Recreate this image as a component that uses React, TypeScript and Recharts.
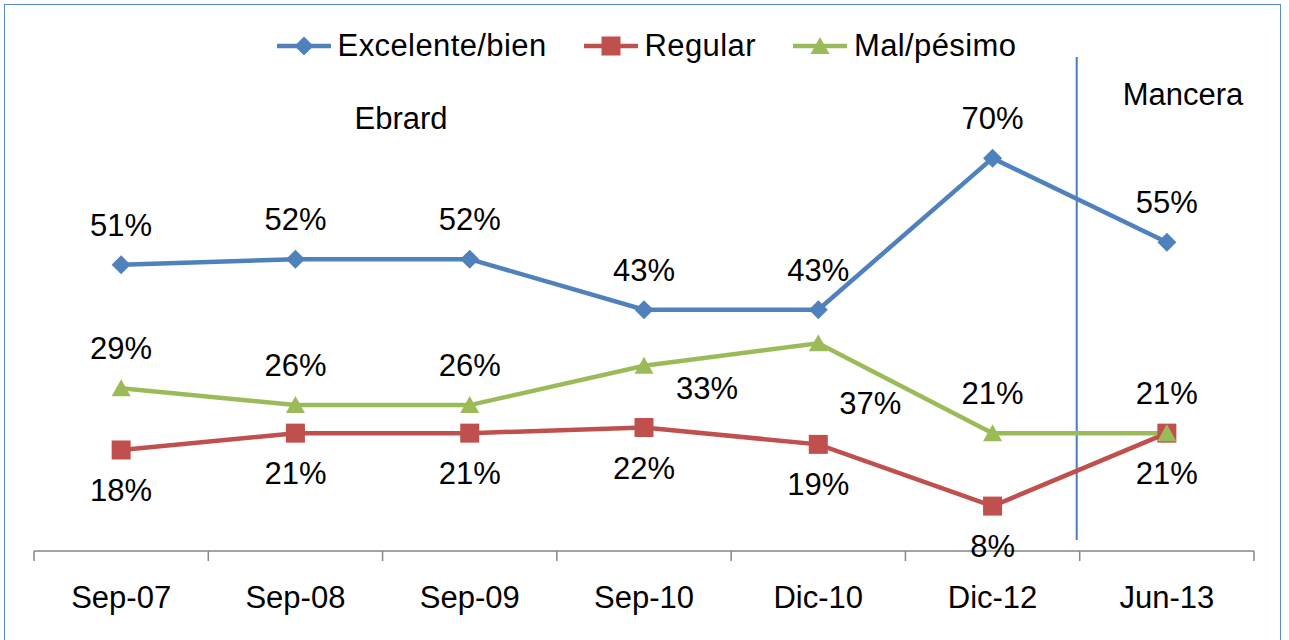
import { Legend, Line, LineChart, ReferenceLine, XAxis, YAxis } from 'recharts'

// values (percent)
const categories = ['Sep-07', 'Sep-08', 'Sep-09', 'Sep-10', 'Dic-10', 'Dic-12', 'Jun-13']
const excelenteBien = [51, 52, 52, 43, 43, 70, 55]
const regular = [18, 21, 21, 22, 19, 8, 21]
const malPesimo = [29, 26, 26, 33, 37, 21, 21]

const seriesNames = ['Excelente/bien', 'Regular', 'Mal/pésimo']

const W = 1289
const H = 640
const MARGIN = { top: 102, right: 35, bottom: 0, left: 34 }
const BAND = (W - MARGIN.left - MARGIN.right) / categories.length
const FONT = '"Liberation Sans", Arial, sans-serif'
const FS = 31

const BLUE = '#4F81BD'
const RED = '#C0504D'
const GREEN = '#9BBB59'

// label placement relative to each point (label centre)
type Offset = [number, number]
const ABOVE: Offset = [0, -40]
const BELOW: Offset = [0, 40]
const bluePlacement: Offset[] = categories.map(() => ABOVE)
const redPlacement: Offset[] = categories.map(() => BELOW)
const greenPlacement: Offset[] = [ABOVE, ABOVE, ABOVE, [63, 22], [52, 60], ABOVE, ABOVE]

const data = categories.map((name, i) => ({
	name,
	excelente: excelenteBien[i],
	regular: regular[i],
	mal: malPesimo[i],
}))

type Kind = 'diamond' | 'square' | 'triangle'

function Marker({ kind, cx, cy, color }: { kind: Kind; cx: number; cy: number; color: string }) {
	if (kind === 'diamond') {
		const r = 9.5
		return <polygon points={`${cx},${cy - r} ${cx + r},${cy} ${cx},${cy + r} ${cx - r},${cy}`} fill={color} />
	}
	if (kind === 'square') {
		return <rect x={cx - 9.5} y={cy - 9.5} width={19} height={19} fill={color} />
	}
	return <polygon points={`${cx},${cy - 9} ${cx + 9.5},${cy + 8} ${cx - 9.5},${cy + 8}`} fill={color} />
}

function makeDot(kind: Kind, color: string, key: string, placement: Offset[]) {
	return (props: any) => {
		const { cx, cy, index, payload } = props
		if (cx == null || cy == null) return <g key={`${key}-${index}`} />
		const [dx, dy] = placement[index] ?? ABOVE
		const v = payload?.[key] ?? props.value
		return (
			<g key={`${key}-${index}`}>
				<Marker kind={kind} cx={cx} cy={cy} color={color} />
				<text x={cx + dx} y={cy + dy + 11} textAnchor="middle" fontSize={FS} fontFamily={FONT} fill="#000">
					{v}%
				</text>
			</g>
		)
	}
}

function AxisTick(props: any) {
	const { x, y, payload, index } = props
	const last = index === categories.length - 1
	return (
		<g>
			<line x1={x - BAND / 2} y1={y} x2={x - BAND / 2} y2={y + 10} stroke="#868686" strokeWidth={1.5} />
			{last && <line x1={x + BAND / 2} y1={y} x2={x + BAND / 2} y2={y + 10} stroke="#868686" strokeWidth={1.5} />}
			<text x={x} y={y + 57} textAnchor="middle" fontSize={FS} fontFamily={FONT} fill="#000">
				{payload.value}
			</text>
		</g>
	)
}

function LegendContent() {
	const items: Array<{ name: string; color: string; kind: Kind }> = [
		{ name: seriesNames[0], color: BLUE, kind: 'diamond' },
		{ name: seriesNames[1], color: RED, kind: 'square' },
		{ name: seriesNames[2], color: GREEN, kind: 'triangle' },
	]
	return (
		<div
			style={{
				display: 'flex',
				justifyContent: 'center',
				gap: 37,
				fontFamily: FONT,
				fontSize: FS,
				lineHeight: '32px',
				letterSpacing: 0.4,
			}}
		>
			{items.map((it) => (
				<div key={it.name} style={{ display: 'flex', alignItems: 'center', gap: 7 }}>
					<svg width={54} height={32}>
						<line x1={0} y1={16} x2={54} y2={16} stroke={it.color} strokeWidth={4.5} />
						<Marker kind={it.kind} cx={27} cy={16} color={it.color} />
					</svg>
					<span style={{ color: '#000' }}>{it.name}</span>
				</div>
			))}
		</div>
	)
}

function DividerLine(props: any) {
	const x = props.x1 - BAND / 2 - 3
	return <line x1={x} y1={57} x2={x} y2={540} stroke="#4A7EBB" strokeWidth={2} />
}

export default function App() {
	return (
		<div style={{ position: 'absolute', left: 0, top: 0, width: W, height: H, overflow: 'hidden', background: '#fff', fontFamily: FONT }}>
			<div
				style={{
					position: 'absolute',
					left: 4,
					top: 4,
					width: 1277,
					height: 680,
					border: '1.5px solid #5B8BC9',
					boxSizing: 'border-box',
				}}
			/>
			<LineChart width={W} height={H} data={data} margin={MARGIN}>
				<XAxis
					dataKey="name"
					height={89}
					interval={0}
					padding={{ left: BAND / 2, right: BAND / 2 }}
					axisLine={{ stroke: '#868686', strokeWidth: 1.5 }}
					tickLine={false}
					tickSize={0}
					tickMargin={0}
					tick={<AxisTick />}
				/>
				<YAxis hide domain={[0, 80]} />
				<Legend
					verticalAlign="middle"
					content={<LegendContent />}
					wrapperStyle={{ position: 'absolute', top: 30, left: 2, width: W }}
				/>
				<ReferenceLine x="Jun-13" ifOverflow="visible" shape={<DividerLine />} />
				<Line
					dataKey="excelente"
					name={seriesNames[0]}
					stroke={BLUE}
					strokeWidth={4.5}
					dot={makeDot('diamond', BLUE, 'excelente', bluePlacement)}
					activeDot={false}
					isAnimationActive={false}
				/>
				<Line
					dataKey="regular"
					name={seriesNames[1]}
					stroke={RED}
					strokeWidth={4.5}
					dot={makeDot('square', RED, 'regular', redPlacement)}
					activeDot={false}
					isAnimationActive={false}
				/>
				<Line
					dataKey="mal"
					name={seriesNames[2]}
					stroke={GREEN}
					strokeWidth={4.5}
					dot={makeDot('triangle', GREEN, 'mal', greenPlacement)}
					activeDot={false}
					isAnimationActive={false}
				/>
			</LineChart>
			<svg width={W} height={H} style={{ position: 'absolute', left: 0, top: 0, pointerEvents: 'none' }}>
				<text x={401} y={129} textAnchor="middle" fontSize={FS} fontFamily={FONT} fill="#000">
					Ebrard
				</text>
				<text x={1183} y={105} textAnchor="middle" fontSize={FS} fontFamily={FONT} fill="#000">
					Mancera
				</text>
			</svg>
		</div>
	)
}
